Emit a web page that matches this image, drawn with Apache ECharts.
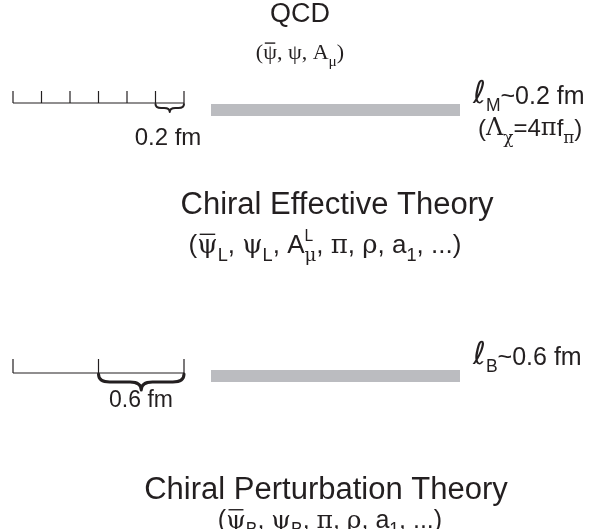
<!DOCTYPE html>
<html>
<head>
<meta charset="utf-8">
<script src="https://cdn.jsdelivr.net/npm/echarts@6/dist/echarts.min.js"></script>
<style>
  html, body { margin: 0; background: #fff; }
  #main { width: 596px; height: 529px; }
</style>
</head>
<body>
<div id="main"></div>
<script>
// theory levels, top to bottom
const theories = ['QCD', 'Chiral Effective Theory', 'Chiral Perturbation Theory']
// field content, _{} sub, ^{} sup, #{} overbar, *{} large glyph
const fieldSets = [
  '(#{ψ}, ψ, A_{μ})',
  '(#{ψ}_{L}, ψ_{L}, A^{L}_{μ}, π, ρ, a_{1}, ...)',
  '(#{ψ}_{B}, ψ_{B}, π, ρ, a_{1}, ...)'
]
// ruler ticks in fm
const fineTicks = [0, 0.2, 0.4, 0.6, 0.8, 1.0, 1.2]
const coarseTicks = [0, 0.6, 1.2]
// span marked with a brace, fm
const braceSpans = [[1.0, 1.2], [0.6, 1.2]]
const scaleLabels = ['0.2 fm', '0.6 fm']
// length scales
const lengthNames = ['M', 'B']
const lengthValues = [0.2, 0.6]
const cutoffNote = '(Λ_{χ}=4πf_{π})'

// layout
const INK = '#231f20'
const GRAY = '#bbbcc0'
const SANS = '"Liberation Sans", Arial, sans-serif'
const SERIF = '"Liberation Serif", "Times New Roman", serif'
const GREEK_SERIF = '"DejaVu Serif", "Liberation Serif", serif'
const SCRIPT_L = '"DejaVu Sans", sans-serif'
const RULER_X0 = 13
const PX_PER_FM = 142.5
const ROW_Y = [103, 373]
const TICK_H = [12, 14]
const BRACE_H = [8, 16]
const BAR_X = [211, 460]
const BAR_TOP = [104, 370]
const BAR_H = 12

const rulers = [fineTicks, coarseTicks]

const texts = [
  { src: theories[0], x: 300, y: 15, align: 'center', size: 27, family: SANS, greek: SERIF },
  { src: fieldSets[0], x: 300, y: 53, align: 'center', size: 22, family: SERIF, greek: SERIF },
  { src: '*{ℓ}_{' + lengthNames[0] + '}~' + lengthValues[0] + ' fm', x: 473, y: 97, align: 'left', size: 25, family: SANS, greek: SERIF },
  { src: cutoffNote, x: 478, y: 129, align: 'left', size: 24, family: SANS, greek: GREEK_SERIF },
  { src: scaleLabels[0], x: 168, y: 138, align: 'center', size: 24, family: SANS, greek: SERIF },
  { src: theories[1], x: 337, y: 205, align: 'center', size: 31, family: SANS, greek: SERIF },
  { src: fieldSets[1], x: 325, y: 246, align: 'center', size: 26, family: SANS, greek: GREEK_SERIF },
  { src: '*{ℓ}_{' + lengthNames[1] + '}~' + lengthValues[1] + ' fm', x: 473, y: 358, align: 'left', size: 25, family: SANS, greek: SERIF },
  { src: scaleLabels[1], x: 141, y: 401, align: 'center', size: 23, family: SANS, greek: SERIF },
  { src: theories[2], x: 326, y: 490, align: 'center', size: 31, family: SANS, greek: SERIF },
  { src: fieldSets[2], x: 330, y: 521, align: 'center', size: 25, family: SANS, greek: GREEK_SERIF }
]

const ctx = document.createElement('canvas').getContext('2d')
const GREEK = /[\u0370-\u03ff]/

function parseMarkup(src) {
  const out = []
  let buf = ''
  let i = 0
  const flush = () => { if (buf) { out.push({ text: buf, kind: 'n' }); buf = '' } }
  while (i < src.length) {
    const c = src[i]
    if ('_^#*'.includes(c) && src[i + 1] === '{') {
      flush()
      const j = src.indexOf('}', i)
      const kind = { _: 'sub', '^': 'sup', '#': 'bar', '*': 'big' }[c]
      out.push({ text: src.slice(i + 2, j), kind })
      i = j + 1
    } else {
      buf += c
      i++
    }
  }
  flush()
  return out
}

function splitRuns(s) {
  const runs = []
  for (const ch of s) {
    const g = GREEK.test(ch)
    if (runs.length && runs[runs.length - 1].g === g) runs[runs.length - 1].t += ch
    else runs.push({ t: ch, g })
  }
  return runs
}

function layoutLine(t) {
  const toks = parseMarkup(t.src)
  const parts = []
  let x = 0
  toks.forEach((tok, k) => {
    let size = t.size
    let dy = 0
    if (tok.kind === 'sub') { size = t.size * 0.7; dy = t.size * 0.28 }
    if (tok.kind === 'sup') { size = t.size * 0.6; dy = -t.size * 0.5 }
    if (tok.kind === 'big') size = t.size * 1.25
    let w = 0
    splitRuns(tok.text).forEach(run => {
      const fam = tok.kind === 'big' ? SCRIPT_L : run.g ? t.greek : t.family
      ctx.font = size + 'px ' + fam
      const rw = ctx.measureText(run.t).width
      parts.push({ text: run.t, x: x + w, dy, size, fam, w: rw, bar: tok.kind === 'bar' })
      w += rw
    })
    const next = toks[k + 1]
    if (!(tok.kind === 'sup' && next && next.kind === 'sub')) x += w
  })
  return { parts, width: x }
}

const chart = echarts.init(document.getElementById('main'))

chart.setOption({
  animation: false,
  grid: { left: 0, right: 0, top: 0, bottom: 0 },
  xAxis: { type: 'value', min: 0, max: 596, show: false },
  yAxis: { type: 'value', min: 0, max: 529, inverse: true, show: false },
  series: [
    {
      // rulers with ticks and braces
      type: 'custom',
      silent: true,
      data: rulers.map((r, i) => [i, ROW_Y[i]]),
      renderItem(params, api) {
        const i = params.dataIndex
        const ticks = rulers[i]
        const y = ROW_Y[i]
        const P = fm => api.coord([RULER_X0 + fm * PX_PER_FM, y])
        const a = P(ticks[0])
        const b = P(ticks[ticks.length - 1])
        const children = [{
          type: 'line',
          shape: { x1: a[0], y1: a[1], x2: b[0], y2: b[1] },
          style: { stroke: INK, lineWidth: 1.2 }
        }]
        ticks.forEach(fm => {
          const p = P(fm)
          children.push({
            type: 'line',
            shape: { x1: p[0], y1: p[1], x2: p[0], y2: p[1] - TICK_H[i] },
            style: { stroke: INK, lineWidth: 1.2 }
          })
        })
        const x0 = P(braceSpans[i][0])[0]
        const x1 = P(braceSpans[i][1])[0]
        const m = (x0 + x1) / 2
        const h = BRACE_H[i]
        const q = h * 0.5
        const r = Math.min(q * 1.4, (x1 - x0) / 5)
        const y0 = a[1] + 1
        const d = `M${x0},${y0} Q${x0},${y0 + q} ${x0 + r},${y0 + q} L${m - r},${y0 + q} ` +
          `Q${m},${y0 + q} ${m},${y0 + h} Q${m},${y0 + q} ${m + r},${y0 + q} ` +
          `L${x1 - r},${y0 + q} Q${x1},${y0 + q} ${x1},${y0}`
        children.push({
          type: 'path',
          shape: { pathData: d },
          style: { stroke: INK, fill: null, lineWidth: i === 0 ? 2 : 3, lineCap: 'round', lineJoin: 'round' }
        })
        return { type: 'group', children }
      }
    },
    {
      // gray separators
      type: 'custom',
      silent: true,
      data: BAR_TOP.map((t, i) => [i, t]),
      renderItem(params, api) {
        const top = BAR_TOP[params.dataIndex]
        const p0 = api.coord([BAR_X[0], top])
        const p1 = api.coord([BAR_X[1], top + BAR_H])
        return {
          type: 'rect',
          shape: { x: p0[0], y: p0[1], width: p1[0] - p0[0], height: p1[1] - p0[1] },
          style: { fill: GRAY }
        }
      }
    },
    {
      // labels
      type: 'custom',
      silent: true,
      data: texts.map(t => [t.x, t.y]),
      renderItem(params, api) {
        const t = texts[params.dataIndex]
        const p = api.coord([t.x, t.y])
        const lay = layoutLine(t)
        const left = t.align === 'left' ? p[0] : p[0] - lay.width / 2
        const base = p[1] + 0.35 * t.size
        const children = []
        lay.parts.forEach(part => {
          const by = base + part.dy
          children.push({
            type: 'text',
            x: left + part.x,
            y: by - 0.35 * part.size,
            style: {
              text: part.text,
              fontSize: part.size,
              fontFamily: part.fam,
              fill: INK,
              align: 'left',
              verticalAlign: 'middle'
            }
          })
          if (part.bar) {
            const yb = by - 0.8 * part.size
            children.push({
              type: 'line',
              shape: { x1: left + part.x + part.w * 0.12, y1: yb, x2: left + part.x + part.w * 0.88, y2: yb },
              style: { stroke: INK, lineWidth: 1.4 }
            })
          }
        })
        return { type: 'group', children }
      }
    }
  ]
})
</script>
</body>
</html>
